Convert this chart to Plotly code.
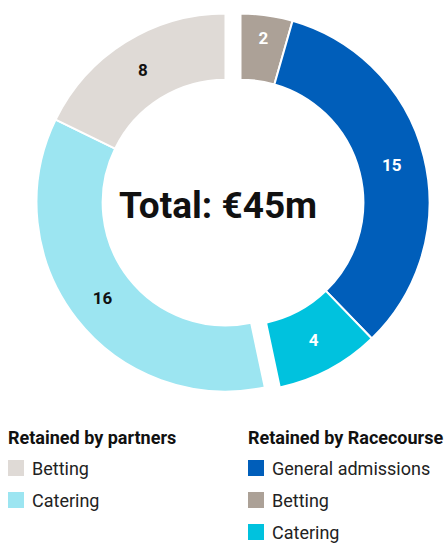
import plotly.graph_objects as go

W, H = 444, 543

# Data
race_labels = ["Betting", "General admissions", "Catering"]
race_values = [2, 15, 4]
race_colors = ["#aca197", "#005eba", "#00c2de"]
race_text_colors = ["white", "white", "white"]

partner_labels = ["Catering", "Betting"]
partner_values = [16, 8]
partner_colors = ["#9ce5f1", "#dfdad6"]
partner_text_colors = ["#111111", "#111111"]

legend_partner_title = "Retained by partners"
legend_partner_items = ["Betting", "Catering"]
legend_partner_colors = ["#dfdad6", "#9ce5f1"]
legend_race_title = "Retained by Racecourse"
legend_race_items = ["General admissions", "Betting", "Catering"]
legend_race_colors = ["#005eba", "#aca197", "#00c2de"]

total_label = "Total: €{}m".format(sum(race_values) + sum(partner_values))

FONT = "Roboto"
CLEAR = "rgba(0,0,0,0)"

# geometry (pixels)
CX, CY, R, SHIFT = 233, 202.5, 189, 7.5


def domain(cx):
    return dict(x=[(cx - R) / W, (cx + R) / W],
                y=[1 - (CY + R) / H, 1 - (CY - R) / H])


fig = go.Figure()

fig.add_trace(go.Pie(
    labels=race_labels + ["fill_r"],
    values=race_values + [sum(partner_values)],
    text=[str(v) for v in race_values] + [""],
    textinfo="text",
    textposition="inside",
    insidetextorientation="horizontal",
    textfont=dict(family=FONT, size=17, color=race_text_colors + [CLEAR], weight="bold"),
    marker=dict(colors=race_colors + [CLEAR],
                line=dict(color=["white"] * 3 + [CLEAR], width=[2, 2, 2, 0])),
    hole=0.65, sort=False, direction="clockwise", rotation=0,
    domain=domain(CX + SHIFT), showlegend=False, hoverinfo="skip",
))

fig.add_trace(go.Pie(
    labels=["fill_p"] + partner_labels,
    values=[sum(race_values)] + partner_values,
    text=[""] + [str(v) for v in partner_values],
    textinfo="text",
    textposition="inside",
    insidetextorientation="horizontal",
    textfont=dict(family=FONT, size=17, color=[CLEAR] + partner_text_colors, weight="bold"),
    marker=dict(colors=[CLEAR] + partner_colors,
                line=dict(color=[CLEAR] + ["white"] * 2, width=[0, 2, 2])),
    hole=0.65, sort=False, direction="clockwise", rotation=0,
    domain=domain(CX - SHIFT), showlegend=False, hoverinfo="skip",
))

annotations = [dict(
    x=217.5 / W, y=1 - 205 / H, xref="paper", yref="paper",
    text="<b>%s</b>" % total_label, showarrow=False,
    font=dict(family=FONT, size=37, color="#111111"),
    xanchor="center", yanchor="middle",
)]
shapes = []


def add_legend(x0, title, items, colors):
    annotations.append(dict(
        x=x0 / W, y=1 - 437 / H, xref="paper", yref="paper",
        text="<b>%s</b>" % title, showarrow=False,
        font=dict(family=FONT, size=18, color="#111111"),
        xanchor="left", yanchor="middle", xshift=-2,
    ))
    for i, (name, col) in enumerate(zip(items, colors)):
        yc = 468 + 32 * i
        shapes.append(dict(
            type="rect", xref="paper", yref="paper",
            x0=x0 / W, x1=(x0 + 16) / W,
            y0=1 - (yc + 8) / H, y1=1 - (yc - 8) / H,
            fillcolor=col, line=dict(width=0),
        ))
        annotations.append(dict(
            x=(x0 + 24) / W, y=1 - yc / H, xref="paper", yref="paper",
            text=name, showarrow=False,
            font=dict(family=FONT, size=18, color="#222222"),
            xanchor="left", yanchor="middle", xshift=-2,
        ))


add_legend(8, legend_partner_title, legend_partner_items, legend_partner_colors)
add_legend(248, legend_race_title, legend_race_items, legend_race_colors)

fig.update_layout(
    width=W, height=H,
    margin=dict(l=0, r=0, t=0, b=0),
    paper_bgcolor="white", plot_bgcolor="white",
    showlegend=False,
    annotations=annotations, shapes=shapes,
    font=dict(family=FONT),
)

fig.write_html("out.html", config={"displayModeBar": False},
               post_script="document.body.style.margin='0';")
